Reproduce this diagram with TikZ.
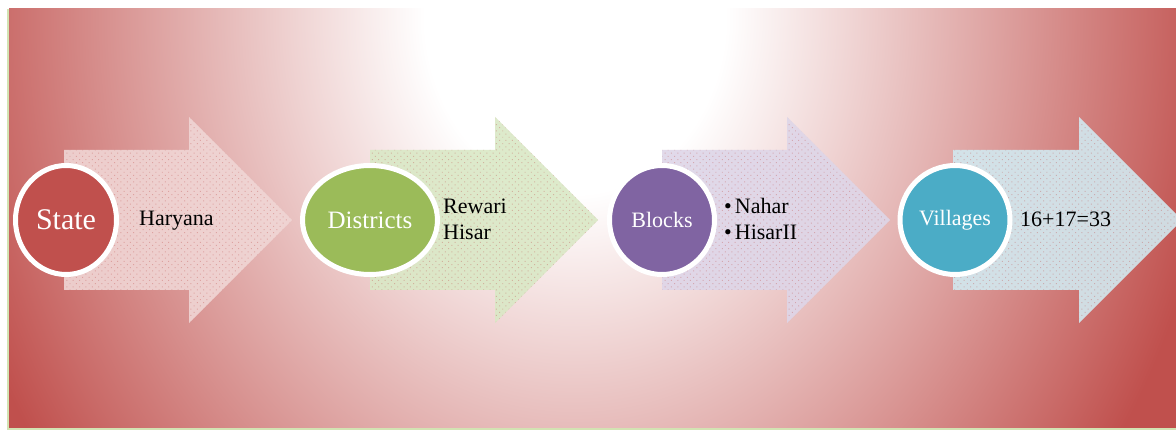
\documentclass[tikz,border=0pt]{standalone}
\usepackage{fontspec}
\setmainfont{Liberation Serif}
\usetikzlibrary{shapes.geometric,patterns.meta}

\definecolor{stateRed}{HTML}{C0504D}
\definecolor{distGreen}{HTML}{9BBB59}
\definecolor{blockPurple}{HTML}{8064A2}
\definecolor{villBlue}{HTML}{4BACC6}
\definecolor{pinkBand}{HTML}{F0D6D5}
\definecolor{greenBand}{HTML}{DAE8C6}
\definecolor{purpleBand}{HTML}{DED6E8}
\definecolor{blueBand}{HTML}{D2E9F0}
\definecolor{edgeGreen}{HTML}{D3E3B3}

\pgfdeclareradialshading{glow}{\pgfpoint{0bp}{0bp}}{%
    color(0bp)=(white); color(4.7bp)=(white);
    color(8.75bp)=(stateRed!25!white); color(11.9bp)=(stateRed!45!white);
    color(15bp)=(stateRed!65!white); color(18.1bp)=(stateRed!85!white);
    color(20.3bp)=(stateRed); color(50bp)=(stateRed)}

\begin{document}
\begin{tikzpicture}[x=1pt, y=-1pt,
        stage/.style={ellipse, draw=white, line width=5pt, text=white, inner sep=0pt, minimum height=109pt},
        band/.style={fill=#1, fill opacity=.9, postaction={pattern={Dots[distance=4.5pt, radius=.7pt, angle=45]}, pattern color=stateRed, fill opacity=.35}},
        note/.style={inner sep=0pt, align=left, font=\rmfamily\fontsize{22}{26}\selectfont}]
    \useasboundingbox (0,0) rectangle (1176,430);
    \begin{scope}
        \clip (9,9) rectangle (1176,428);
        \shade[shading=glow] (575,15) ellipse [x radius=800pt, y radius=950pt];
    \end{scope}
    \draw[edgeGreen, line width=1.5pt] (8,9) -- (8,429) -- (1176,429);

    \path[band=pinkBand] (64,150) -- (189,150) -- (189,117) -- (292,220) -- (189,323) -- (189,290) -- (64,290) -- cycle;
    \path[band=greenBand] (370,150) -- (495,150) -- (495,117) -- (598,220) -- (495,323) -- (495,290) -- (370,290) -- cycle;
    \path[band=purpleBand] (662,150) -- (787,150) -- (787,117) -- (890,220) -- (787,323) -- (787,290) -- (662,290) -- cycle;
    \path[band=blueBand] (953,150) -- (1079,150) -- (1079,117) -- (1182,220) -- (1079,323) -- (1079,290) -- (953,290) -- cycle;

    \node[stage, fill=stateRed, minimum width=101pt, font=\rmfamily\fontsize{30}{36}\selectfont] (state) at (66,220) {State};
    \node[stage, fill=distGreen, minimum width=135pt, font=\rmfamily\fontsize{25}{30}\selectfont] (districts) at (370,220) {Districts};
    \node[stage, fill=blockPurple, minimum width=105pt, font=\rmfamily\fontsize{22}{26}\selectfont] (blocks) at (662,220) {Blocks};
    \node[stage, fill=villBlue, minimum width=110pt, font=\rmfamily\fontsize{22}{26}\selectfont] (villages) at (955,220) {Villages};

    \node[note, anchor=base west] (haryana) at (139,226) {Haryana};
    \node[note, anchor=west] (districtlist) at (443,219) {Rewari\\Hisar};
    \node[note, anchor=west] (blocklist) at (724,219) {\textbullet\hspace{3pt}Nahar\\\textbullet\hspace{3pt}HisarII};
    \node[note, anchor=base west] (villagecount) at (1020,227) {16+17=33};
\end{tikzpicture}
\end{document}
